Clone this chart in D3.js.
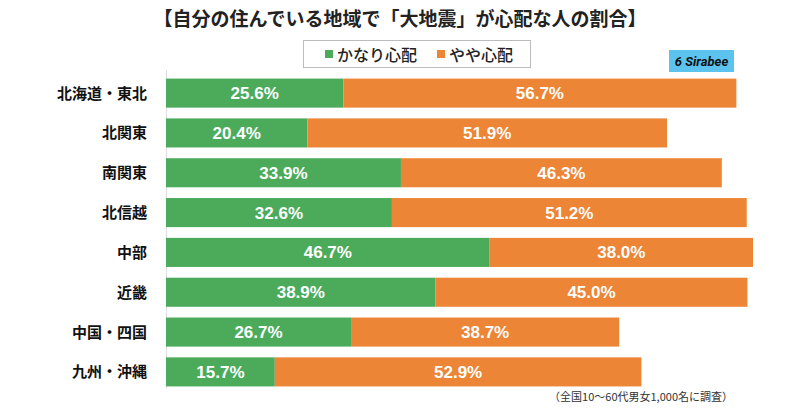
<!DOCTYPE html>
<html><head><meta charset="utf-8">
<script src="https://cdn.jsdelivr.net/npm/d3@7"></script>
<style>body{margin:0;background:#fff;font-family:"Noto Sans CJK JP","Noto Sans",sans-serif;}</style>
</head><body><svg id="c" width="798" height="410"></svg>
<script>
const categories = ["北海道・東北","北関東","南関東","北信越","中部","近畿","中国・四国","九州・沖縄"];
const veryWorried = [25.6,20.4,33.9,32.6,46.7,38.9,26.7,15.7];
const somewhatWorried = [56.7,51.9,46.3,51.2,38.0,45.0,38.7,52.9];
const seriesNames = ["かなり心配","やや心配"];
const colors = ["#4bab5b","#ec8535"];

const svg = d3.select("#c");
const x = d3.scaleLinear().domain([0,84.7]).range([166,753]);
const y = d3.scaleBand().domain(categories).range([73,392]).paddingInner(0.27).paddingOuter(0.14);

svg.append("text").attr("x",400).attr("y",26).attr("text-anchor","middle")
  .attr("font-size",19).attr("font-weight",700).attr("fill","#222")
  .text("【自分の住んでいる地域で「大地震」が心配な人の割合】");

// legend
svg.append("rect").attr("x",303.5).attr("y",40.5).attr("width",227).attr("height",27)
  .attr("fill","#fff").attr("stroke","#bbb");
const lg = [{n:seriesNames[0],c:colors[0],x:325},{n:seriesNames[1],c:colors[1],x:437}];
lg.forEach(d=>{
  svg.append("rect").attr("x",d.x).attr("y",50).attr("width",8).attr("height",8).attr("fill",d.c);
  svg.append("text").attr("x",d.x+12).attr("y",61).attr("font-size",16).attr("font-weight",500).attr("fill","#222").text(d.n);
});

// logo
svg.append("rect").attr("x",669).attr("y",50).attr("width",65).attr("height",22).attr("fill","#5bc3ee");
svg.append("text").attr("x",701.5).attr("y",66).attr("text-anchor","middle").attr("font-size",13)
  .attr("font-weight",700).attr("font-style","italic").attr("fill","#111").attr("font-family","Roboto,sans-serif").text("6 Sirabee");

// axis line
svg.append("line").attr("x1",166.5).attr("x2",166.5).attr("y1",70).attr("y2",388).attr("stroke","#ddd");

const rows = svg.selectAll("g.row").data(categories).join("g");
rows.append("rect").attr("x",x(0)).attr("y",d=>y(d)).attr("height",y.bandwidth())
  .attr("width",(d,i)=>x(veryWorried[i])-x(0)).attr("fill",colors[0]);
rows.append("rect").attr("x",(d,i)=>x(veryWorried[i])).attr("y",d=>y(d)).attr("height",y.bandwidth())
  .attr("width",(d,i)=>x(veryWorried[i]+somewhatWorried[i])-x(veryWorried[i])).attr("fill",colors[1]);
rows.append("text").attr("x",(d,i)=>(x(0)+x(veryWorried[i]))/2).attr("y",d=>y(d)+y.bandwidth()/2+6)
  .attr("text-anchor","middle").attr("font-size",17).attr("font-weight",700).attr("fill","#fff")
  .attr("font-family","'Liberation Sans',Arial,sans-serif").text((d,i)=>veryWorried[i].toFixed(1)+"%");
rows.append("text").attr("x",(d,i)=>(x(veryWorried[i])+x(veryWorried[i]+somewhatWorried[i]))/2).attr("y",d=>y(d)+y.bandwidth()/2+6)
  .attr("text-anchor","middle").attr("font-size",17).attr("font-weight",700).attr("fill","#fff")
  .attr("font-family","'Liberation Sans',Arial,sans-serif").text((d,i)=>somewhatWorried[i].toFixed(1)+"%");
rows.append("text").attr("x",147).attr("y",d=>y(d)+y.bandwidth()/2+5.5)
  .attr("text-anchor","end").attr("font-size",15).attr("font-weight",700).attr("fill","#111").text(d=>d);

svg.append("text").attr("x",733).attr("y",401).attr("text-anchor","end").attr("font-size",11)
  .attr("fill","#333").text("（全国10〜60代男女1,000名に調査）");
</script></body></html>
